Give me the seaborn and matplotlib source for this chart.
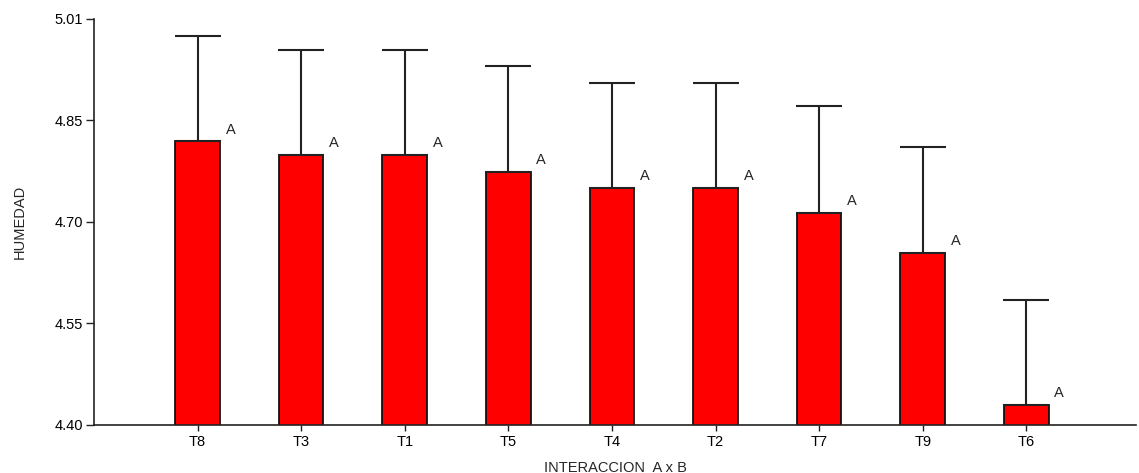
"""
Gráfico de barras de HUMEDAD por tratamiento (interacción A x B),
con error hacia arriba y letras de significancia.
"""

import numpy as np
import pandas as pd
import matplotlib
matplotlib.use("Agg")
import matplotlib.pyplot as plt
import seaborn as sns

# Datos
tratamientos = ["T8", "T3", "T1", "T5", "T4", "T2", "T7", "T9", "T6"]
medias = [4.826, 4.806, 4.806, 4.780, 4.756, 4.756, 4.719, 4.659, 4.430]
errores = [0.158, 0.158, 0.158, 0.159, 0.157, 0.157, 0.160, 0.159, 0.158]
letras = ["A", "A", "A", "A", "A", "A", "A", "A", "A"]

y_ticks = [4.40, 4.5525, 4.705, 4.8575, 5.01]
y_tick_labels = ["4.40", "4.55", "4.70", "4.85", "5.01"]

sns.set_style("white")
plt.rcParams["font.family"] = ["Liberation Sans", "DejaVu Sans"]

df = pd.DataFrame({"tratamiento": tratamientos, "humedad": medias})

fig = plt.figure(figsize=(11.39, 4.73), dpi=100)
ax = fig.add_axes([0.0825, 0.1015, 0.915, 0.8585])

sns.barplot(
    data=df,
    x="tratamiento",
    y="humedad",
    order=tratamientos,
    color="#ff0000",
    saturation=1,
    width=0.43,
    errorbar=None,
    edgecolor="#111111",
    linewidth=1.3,
    ax=ax,
)

# Error solo hacia arriba
xs = np.arange(len(tratamientos))
ax.errorbar(
    xs,
    medias,
    yerr=[np.zeros(len(errores)), errores],
    fmt="none",
    ecolor="#222222",
    elinewidth=1.5,
    capsize=16.5,
    capthick=1.5,
    zorder=1,
)

# Letras de significancia
for x, m, letra in zip(xs, medias, letras):
    ax.text(x + 0.27, m + 0.007, letra, ha="left", va="bottom", fontsize=10.5)

ax.set_ylim(4.40, 5.01)
ax.set_xlim(-1.0, 9.06)
ax.set_yticks(y_ticks)
ax.set_yticklabels(y_tick_labels)

ax.set_xlabel("INTERACCION  A x B", fontsize=10.5, labelpad=8)
ax.set_ylabel("HUMEDAD", fontsize=10.5, labelpad=20)

for lado in ["top", "right"]:
    ax.spines[lado].set_visible(False)
for lado in ["left", "bottom"]:
    ax.spines[lado].set_color("#222222")
    ax.spines[lado].set_linewidth(1.2)

ax.tick_params(axis="y", direction="out", length=6, width=1, colors="#222222",
               labelsize=10.5, labelcolor="black", left=True, pad=2)
ax.tick_params(axis="x", direction="out", length=4, width=1, colors="#222222",
               labelsize=10.5, labelcolor="black", bottom=True)

fig.savefig("out.png", dpi=100)
